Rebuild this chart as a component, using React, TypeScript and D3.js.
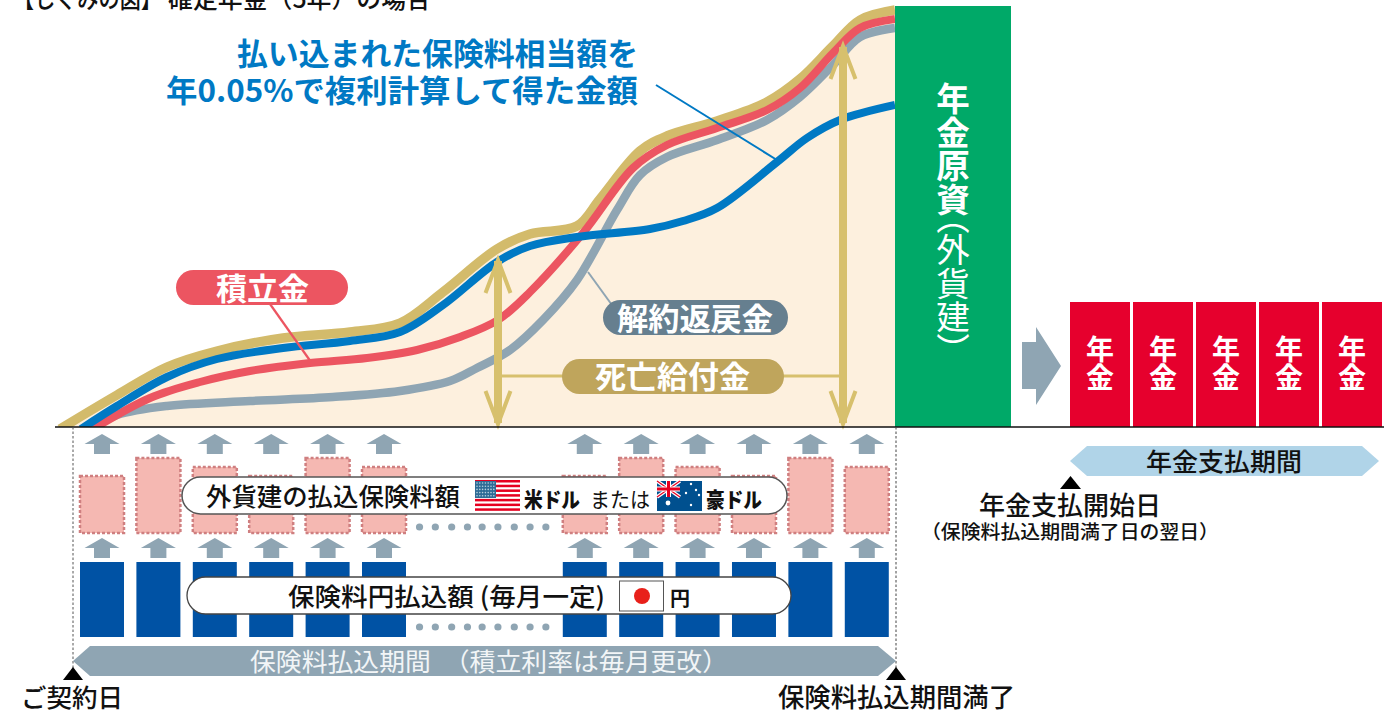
import React from "react";
import * as d3 from "d3";

// Accumulation curves as [elapsed, amount] pairs along the premium payment period.
const deathBenefit: [number, number][] = [[-13,-2],[44,32],[94,60],[144,76],[210,89],[277,95],[327,104],[370,135],[424,178],[457,193],[504,201],[527,228],[567,276],[594,291],[644,306],[694,325],[727,348],[760,381],[787,407],[822,417]];
const accumulation: [number, number][] = [[20,-2],[77,29],[127,45],[177,56],[237,64],[294,69],[344,77],[387,90],[425,107],[457,135],[510,194],[560,259],[594,282],[644,299],[694,317],[727,339],[760,374],[787,399],[822,408]];
const surrenderValue: [number, number][] = [[17,-2],[44,12],[94,21],[177,26],[260,30],[327,36],[377,46],[404,59],[437,77],[470,107],[504,147],[544,217],[567,252],[594,270],[644,287],[694,307],[727,330],[760,362],[787,390],[822,399]];
const compoundAmount: [number, number][] = [[8,-2],[44,21],[94,50],[144,68],[210,79],[277,86],[327,95],[370,122],[424,165],[457,181],[504,190],[577,198],[610,206],[644,219],[704,265],[734,289],[767,307],[822,322]];

// Reference arrows for the death benefit and the months shown as premium bars.
const benefitArrowAt = [425, 770];
const benefitArrowValue = [170, 384];
const paymentSlots = [0, 1, 2, 3, 4, 5, 8.56, 9.56, 10.56, 11.56, 12.56, 13.56];
const foreignPremium = [57, 75, 66, 57, 75, 66, 57, 75, 66, 57, 75, 66];
const yenPremium = [75, 75, 75, 75, 75, 75, 75, 75, 75, 75, 75, 75];
const omittedMonths = [6.02, 6.3, 6.59, 6.87, 7.13, 7.41, 7.7, 7.98, 8.26];
const annuityPayments = ["年金", "年金", "年金", "年金", "年金"];
const annuitySlots = [0, 1, 2, 3, 4];

const FONT = '"Noto Sans CJK JP", "Noto Sans", sans-serif';
const BASE = 427;

const x = d3.scaleLinear().domain([0, 823]).range([73, 896]);
const y = d3.scaleLinear().domain([0, 427]).range([BASE, 0]);
const slotX = d3.scaleLinear().domain([0, 1]).range([80, 136.4]);
const annuityX = d3.scaleLinear().domain([0, 1]).range([1070, 1133]);
const premiumY = d3.scaleLinear().domain([0, 75]).range([533, 458]);
const yenY = d3.scaleLinear().domain([0, 75]).range([637, 562]);

const smooth = d3.curveCatmullRom.alpha(0.5);
const curve = d3.line<[number, number]>().x((d) => x(d[0])).y((d) => y(d[1])).curve(smooth);
const fillArea = d3.area<[number, number]>().x((d) => x(d[0])).y0(BASE).y1((d) => y(d[1])).curve(smooth);

type LabelProps = { x: number; y: number; w?: number; size: number; fill?: string; weight?: number; children: React.ReactNode };
const Label = ({ x, y, w, size, fill = "#111", weight = 500, children }: LabelProps) => (
  <text x={x} y={y} fontSize={size} fill={fill} fontWeight={weight} fontFamily={FONT} textLength={w} lengthAdjust={w ? "spacingAndGlyphs" : undefined}>
    {children}
  </text>
);

const UpArrow = ({ cx, top }: { cx: number; top: number }) => (
  <path d={`M${cx},${top}L${cx + 17.5},${top + 10}H${cx + 8}V${top + 20}H${cx - 8}V${top + 10}H${cx - 17.5}Z`} fill="#8fa5b3" />
);

const Chevron = ({ cx, tip, dir }: { cx: number; tip: number; dir: 1 | -1 }) => (
  <path d={`M${cx - 12.5},${tip + dir * 36}L${cx},${tip + dir * 3}L${cx + 12.5},${tip + dir * 36}`} fill="none" stroke="#d7c06d" strokeWidth={4} />
);

const UsFlag = () => (
  <g>
    <rect x={475} y={480} width={45} height={31} fill="#fff" />
    {d3.range(7).map((i) => (
      <rect key={i} x={475} y={480 + i * 4.72} width={45} height={2.5} fill="#e60020" />
    ))}
    <rect x={475} y={481} width={21} height={17} fill="#2f6c96" />
    {d3.range(5).flatMap((r) =>
      d3.range(7).map((c) => <circle key={`${r}-${c}`} cx={477 + c * 2.8} cy={483 + r * 3.2} r={0.8} fill="#b9d0de" />)
    )}
  </g>
);

const AuFlag = () => (
  <g>
    <rect x={657} y={481} width={45} height={30} fill="#00508f" />
    <path d="M657,481L680,497M680,481L657,497" stroke="#fff" strokeWidth={3.5} />
    <path d="M657,481L680,497M680,481L657,497" stroke="#e60020" strokeWidth={1.2} />
    <path d="M668.5,481V497M657,489H680" stroke="#fff" strokeWidth={5} />
    <path d="M668.5,481V497M657,489H680" stroke="#e60020" strokeWidth={3} />
    <circle cx={668} cy={503} r={2.4} fill="#fff" />
    {[[691, 484], [696, 490], [686, 493], [691, 505], [699, 495]].map(([a, b], i) => (
      <circle key={i} cx={a} cy={b} r={1.2} fill="#fff" />
    ))}
  </g>
);

export default function App() {
  return (
    <svg width={1399} height={711} viewBox="0 0 1399 711" style={{ position: "absolute", left: 0, top: 0, background: "#fff" }}>
      <defs>
        <clipPath id="plot">
          <rect x={0} y={0} width={895} height={BASE} />
        </clipPath>
      </defs>

      <Label x={13} y={8} w={149} size={25}>【しくみの図】</Label>
      <Label x={168} y={8} w={263} size={25}>確定年金（5年）の場合</Label>

      {/* Values over the payment period */}
      <g clipPath="url(#plot)">
        <path d={fillArea(deathBenefit) ?? ""} fill="#fdf0de" />
        <path d={curve(surrenderValue) ?? ""} fill="none" stroke="#8fa5b3" strokeWidth={8.5} />
        <path d={curve(deathBenefit) ?? ""} fill="none" stroke="#d3bb6b" strokeWidth={9.5} />
        <path d={curve(accumulation) ?? ""} fill="none" stroke="#ec5561" strokeWidth={8} />
        <path d={curve(compoundAmount) ?? ""} fill="none" stroke="#0079c4" strokeWidth={8} />
      </g>

      {/* Leader lines and callouts */}
      <line x1={656} y1={85} x2={777} y2={160} stroke="#0079c4" strokeWidth={2} />
      <line x1={270} y1={304} x2={311} y2={362} stroke="#ec5561" strokeWidth={2.2} />
      <line x1={588} y1={272} x2={617} y2={312} stroke="#8fa5b3" strokeWidth={2} />
      <line x1={498} y1={376} x2={843} y2={376} stroke="#d7c06d" strokeWidth={3} />

      {benefitArrowAt.map((t, i) => {
        const cx = x(t);
        const tip = y(benefitArrowValue[i]);
        return (
          <g key={t}>
            <line x1={cx} x2={cx} y1={tip + 4} y2={BASE - 4} stroke="#d7c06d" strokeWidth={8} />
            <Chevron cx={cx} tip={tip} dir={1} />
            <Chevron cx={cx} tip={BASE} dir={-1} />
          </g>
        );
      })}

      <Label x={237} y={65} w={401} size={31} fill="#0079c4" weight={700}>払い込まれた保険料相当額を</Label>
      <Label x={166} y={102} w={472} size={31} fill="#0079c4" weight={700}>年0.05%で複利計算して得た金額</Label>

      <rect x={176} y={270} width={172} height={35} rx={17.5} fill="#ec5561" />
      <Label x={216} y={300} w={93} size={31} fill="#fff" weight={700}>積立金</Label>
      <rect x={603} y={300} width={185} height={35} rx={17.5} fill="#667f8f" />
      <Label x={617} y={330} w={156} size={31} fill="#fff" weight={700}>解約返戻金</Label>
      <rect x={562} y={359} width={222} height={35} rx={17.5} fill="#bfa55c" />
      <Label x={595} y={388} w={155} size={31} fill="#fff" weight={700}>死亡給付金</Label>

      {/* Annuity fund column */}
      <rect x={895} y={6} width={116} height={421} fill="#00a968" />
      <text x={953} y={82} fill="#fff" fontFamily={FONT} fontSize={33.5} fontWeight={700}
        style={{ writingMode: "vertical-rl", fontFeatureSettings: '"vpal"' }}>
        年金原資<tspan fontWeight={400}>（外貨建）</tspan>
      </text>

      <path d="M1022,342H1036V327L1061,366L1036,405V389H1022Z" fill="#8fa5b3" />

      {annuityPayments.map((label, i) => {
        const left = annuityX(annuitySlots[i]);
        return (
          <g key={i}>
            <rect x={left} y={302} width={60} height={BASE - 302} fill="#e6002d" />
            <text x={left + 30} y={335} fontSize={28} fontWeight={700} fill="#fff" fontFamily={FONT}
              style={{ writingMode: "vertical-rl" }}>{label}</text>
          </g>
        );
      })}

      <line x1={55} x2={1384} y1={BASE} y2={BASE} stroke="#111" strokeWidth={1.5} />

      {/* Premium conversion rows */}
      <line x1={73} x2={73} y1={BASE} y2={670} stroke="#555" strokeWidth={1} strokeDasharray="2.5 2" />
      <line x1={896} x2={896} y1={BASE} y2={670} stroke="#444" strokeWidth={1} strokeDasharray="2.5 2" />

      {paymentSlots.map((s, i) => {
        const left = slotX(s);
        return (
          <g key={s}>
            <UpArrow cx={left + 22} top={434} />
            <rect x={left} y={premiumY(foreignPremium[i])} width={44} height={533 - premiumY(foreignPremium[i])} fill="#f5b8b2" stroke="#cf7f80" strokeWidth={2.5} strokeDasharray="3 2" />
            <UpArrow cx={left + 22} top={538} />
            <rect x={left} y={yenY(yenPremium[i])} width={44} height={637 - yenY(yenPremium[i])} fill="#0052a4" />
          </g>
        );
      })}
      {omittedMonths.map((s) => (
        <g key={s}>
          <circle cx={slotX(s)} cy={527} r={3.6} fill="#8fa5b3" />
          <circle cx={slotX(s)} cy={627} r={3.6} fill="#8fa5b3" />
        </g>
      ))}

      <rect x={182} y={477} width={605} height={37} rx={18.5} fill="#fff" stroke="#555" strokeWidth={1.5} />
      <Label x={206} y={506} w={254} size={25.5}>外貨建の払込保険料額</Label>
      <UsFlag />
      <Label x={524} y={507} w={56} size={21} weight={900}>米ドル</Label>
      <Label x={590} y={507} w={60} size={21} weight={400}>または</Label>
      <AuFlag />
      <Label x={706} y={507} w={56} size={21} weight={900}>豪ドル</Label>

      <rect x={187} y={577} width={604} height={37} rx={18.5} fill="#fff" stroke="#444" strokeWidth={1.3} />
      <Label x={288} y={606} w={317} size={25.5}>保険料円払込額 (毎月一定)</Label>
      <rect x={619.5} y={581} width={44} height={30} fill="#fff" stroke="#555" strokeWidth={1} />
      <circle cx={642} cy={596} r={8} fill="#e8201a" />
      <Label x={670} y={606} w={20} size={20} weight={700}>円</Label>

      {/* Period bands and date markers */}
      <path d="M73,661L90,646H878L896,661L878,676H90Z" fill="#8fa5b3" />
      <Label x={250} y={671} w={478} size={25} fill="#f2f5f7" weight={400}>保険料払込期間　（積立利率は毎月更改）</Label>
      <path d="M73,667L83,680H63Z" fill="#000" />
      <path d="M896,667L906,680H886Z" fill="#000" />
      <Label x={21} y={707} w={102} size={25.5}>ご契約日</Label>
      <Label x={778} y={707} w={237} size={26.5}>保険料払込期間満了</Label>

      <path d="M1070,461L1087,446H1362L1379,461L1362,476H1087Z" fill="#b0d4e8" />
      <Label x={1146} y={471} w={156} size={25.5}>年金支払期間</Label>
      <path d="M1070.5,476L1081,489H1060Z" fill="#000" />
      <Label x={979} y={515} w={182} size={26}>年金支払開始日</Label>
      <Label x={921} y={539} w={298} size={19}>（保険料払込期間満了日の翌日）</Label>
    </svg>
  );
}
